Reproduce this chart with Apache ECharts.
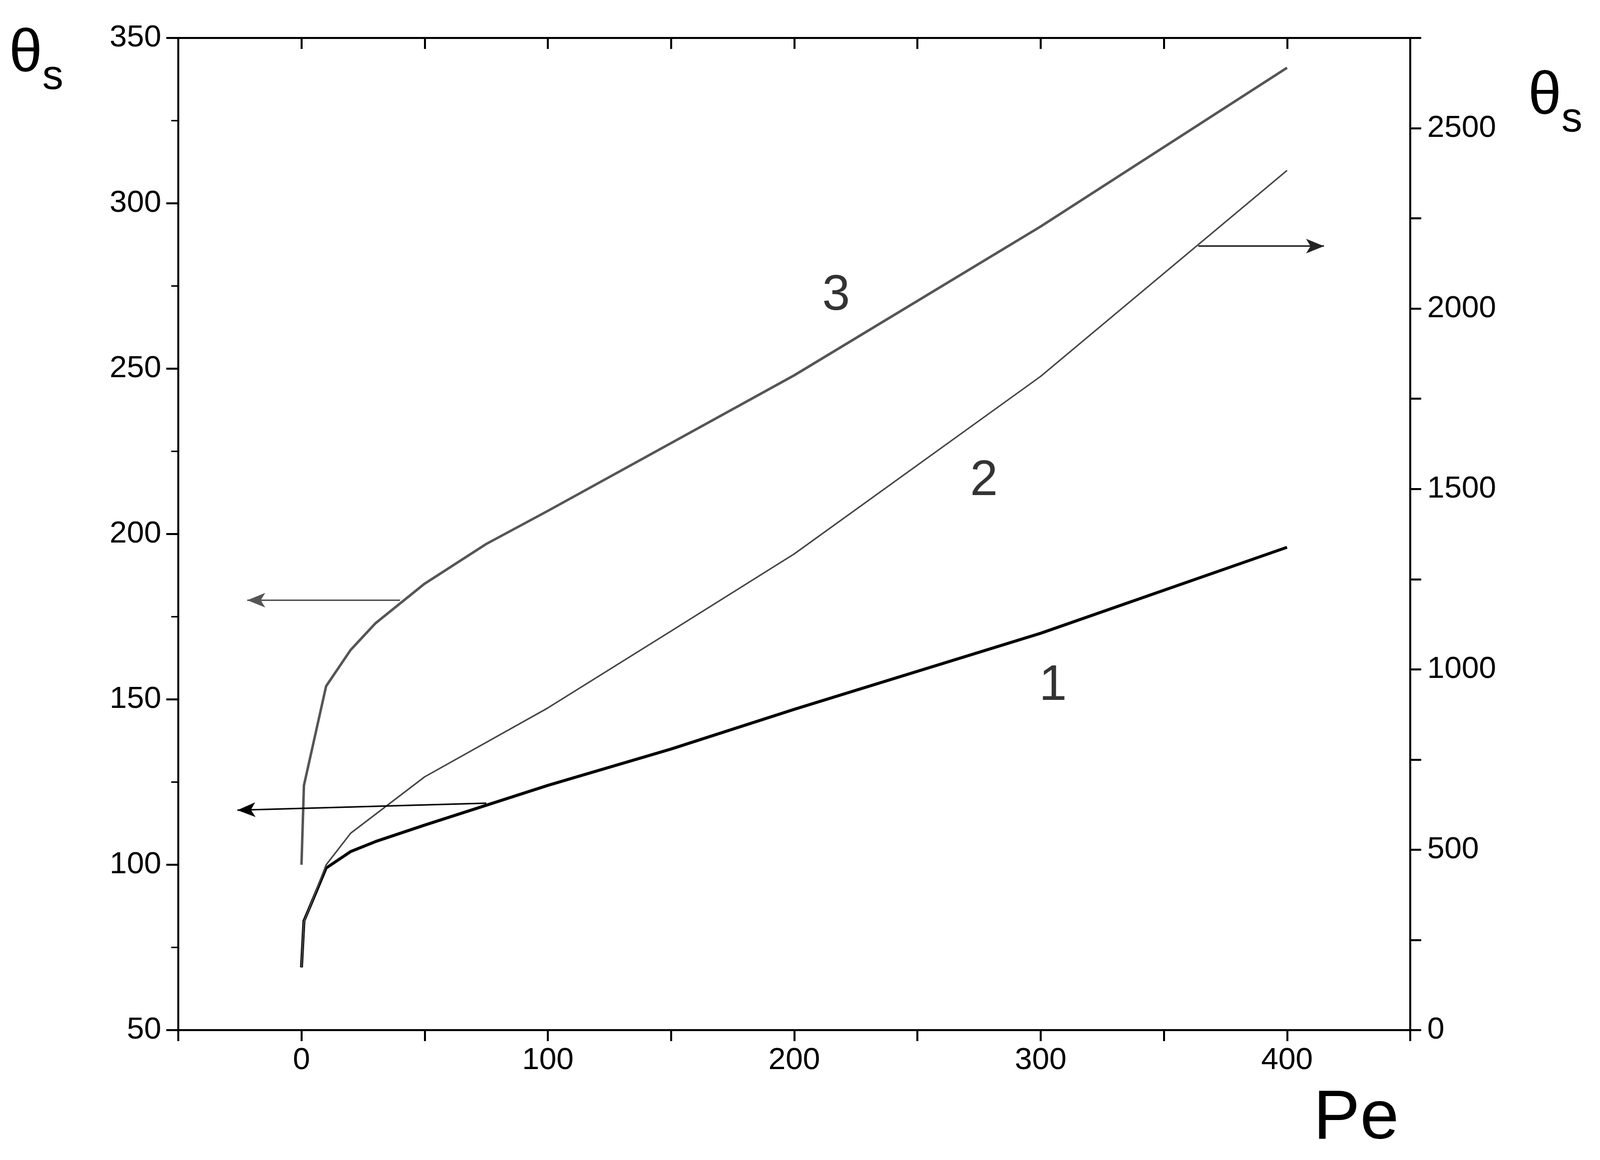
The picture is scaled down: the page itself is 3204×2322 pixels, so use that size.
<!DOCTYPE html>
<html><head><meta charset="utf-8">
<script src="https://cdn.jsdelivr.net/npm/echarts@6/dist/echarts.min.js"></script>
<style>html,body{margin:0;padding:0;background:#fff}#c{width:3204px;height:2322px}</style>
</head><body><div id="c"></div>
<script>
const pe1 = [0,1,10,20,30,50,100,150,200,300,400];
const theta1 = [69,83,99,104,107,112,124,135,147,170,196];
const pe3 = [0,1,10,20,30,50,75,100,200,300,400];
const theta3 = [100,124,154,165,173,185,197,207,248,293,341];
const pe2 = [0,1,10,20,50,100,150,200,300,400];
const theta2 = [173,300,458,546,702,893,1106,1320,1812,2383];
const curveLabels = [["3",217,272],["2",277,216],["1",305,154]];
const xTickLabels = [0,100,200,300,400];

const chart = echarts.init(document.getElementById('c'));
const F = 'Liberation Sans, Arial, sans-serif';
const lineStyleAxis = {color:'#000', width:4};
function zip(a,b){return a.map((v,i)=>[v,b[i]]);}
const arrowLine = (pts, yIdx, color) => ({
  type:'line', yAxisIndex:yIdx, data:[], silent:true,
  markLine:{silent:true, symbol:['none','arrow'], symbolSize:[22,36], label:{show:false},
    lineStyle:{color:color, width:3, type:'solid'}, data:[[{coord:pts[0]},{coord:pts[1]}]]}
});
chart.setOption({
  animation:false,
  grid:{left:357,right:380,top:76,bottom:260},
  xAxis:[{type:'value',min:-50,max:450,interval:50,
    axisLine:{onZero:false,lineStyle:lineStyleAxis},axisTick:{length:22,lineStyle:{width:4,color:'#000'}},
    splitLine:{show:false},
    axisLabel:{fontSize:62,fontFamily:F,color:'#000',margin:30,
      formatter:v=>xTickLabels.includes(v)?String(v):''}},
    {type:'value',position:'top',min:-50,max:450,interval:50,
    axisLine:{onZero:false,lineStyle:lineStyleAxis},axisTick:{inside:true,length:22,lineStyle:{width:4,color:'#000'}},
    axisLabel:{show:false},splitLine:{show:false}}],
  yAxis:[{type:'value',min:50,max:350,interval:50,position:'left',
    axisLine:{show:true,onZero:false,lineStyle:lineStyleAxis},axisTick:{length:24,lineStyle:{width:4,color:'#000'}},
    minorTick:{show:true,splitNumber:2,length:14,lineStyle:{width:3,color:'#000'}},
    splitLine:{show:false},
    axisLabel:{fontSize:62,fontFamily:F,color:'#000',margin:34}},
    {type:'value',min:0,max:2750,interval:250,position:'right',
    axisLine:{show:true,onZero:false,lineStyle:lineStyleAxis},axisTick:{length:22,lineStyle:{width:4,color:'#000'}},
    splitLine:{show:false},
    axisLabel:{fontSize:62,fontFamily:F,color:'#000',margin:34,
      formatter:v=>(v%500===0)?String(v):''}}],
  series:[
    {type:'line',data:zip(pe1,theta1),showSymbol:false,lineStyle:{color:'#000',width:6}},
    {type:'line',data:zip(pe3,theta3),showSymbol:false,lineStyle:{color:'#555',width:5}},
    {type:'line',yAxisIndex:1,data:zip(pe2,theta2),showSymbol:false,lineStyle:{color:'#444',width:3}},
    arrowLine([[40,180],[-22,180]],0,'#555'),
    arrowLine([[75,118.6],[-26,116.5]],0,'#000'),
    arrowLine([[364,2173],[415,2173]],1,'#222'),
    {type:'scatter',symbolSize:0,data:curveLabels.map(d=>({value:[d[1],d[2]],name:d[0]})),
     label:{show:true,position:'inside',formatter:p=>p.name,fontSize:100,fontFamily:F,color:'#000'}}
  ],
  graphic:[
    {type:'text',left:18,top:50,style:{text:'{a|θ}{b|s}',rich:{a:{fontSize:120,fontFamily:F,fill:'#000'},b:{fontSize:84,fontFamily:F,fill:'#000',padding:[90,0,0,0]}}}},
    {type:'text',left:3060,top:135,style:{text:'{a|θ}{b|s}',rich:{a:{fontSize:120,fontFamily:F,fill:'#000'},b:{fontSize:84,fontFamily:F,fill:'#000',padding:[90,0,0,0]}}}},
    {type:'text',left:2630,top:2170,style:{text:'Pe',fontSize:140,fontFamily:F,fill:'#000'}}
  ]
});
</script></body></html>
